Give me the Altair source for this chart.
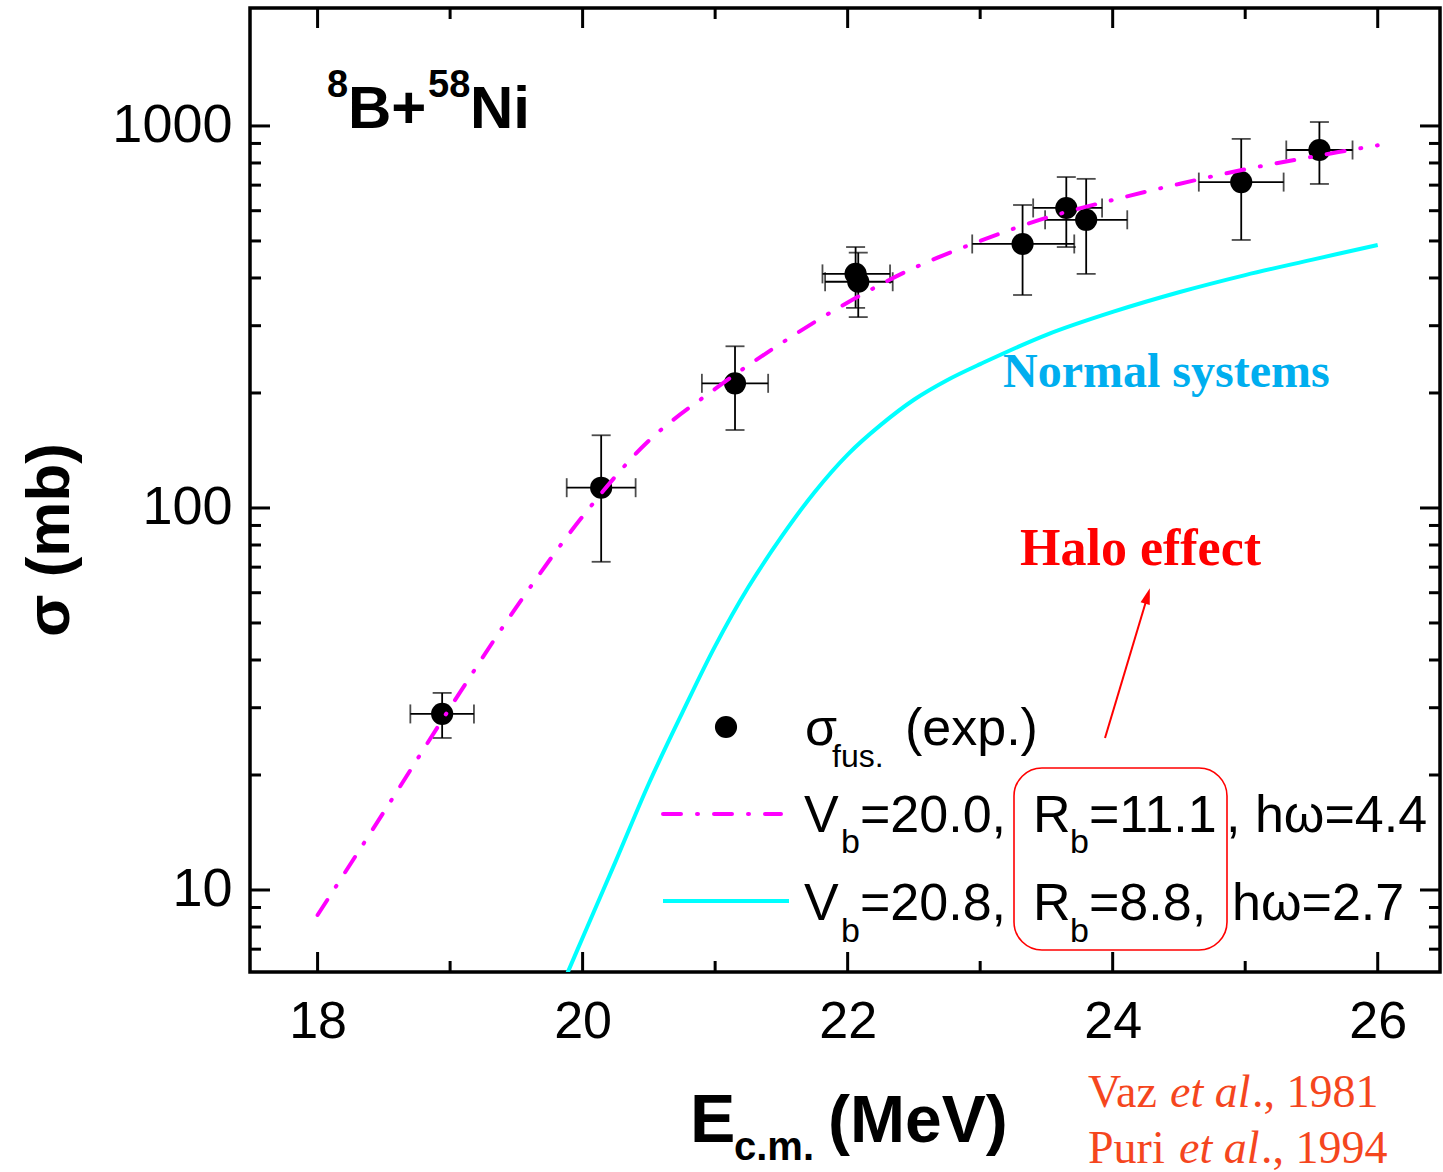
import altair as alt
import pandas as pd

# ---------------- data ----------------
E_exp = [18.94, 20.14, 21.15, 22.06, 22.08, 23.32, 23.65, 23.80, 24.97, 25.56]
sig_exp = [28.9, 113, 212, 410, 391, 491, 610, 568, 713, 865]
sig_lo = [25.0, 72.3, 160, 334, 316, 361, 482, 410, 503, 705]
sig_hi = [32.8, 155, 265, 482, 466, 621, 735, 727, 925, 1024]
E_lo = [18.70, 19.88, 20.90, 21.81, 21.83, 22.94, 23.40, 23.49, 24.65, 25.31]
E_hi = [19.18, 20.40, 21.40, 22.32, 22.34, 23.71, 23.92, 24.11, 25.29, 25.81]

E_fit = [18.0, 18.5, 19.0, 19.5, 20.0, 20.5, 21.0, 21.5, 22.0, 22.5, 23.0,
         23.5, 24.0, 24.5, 25.0, 25.5, 26.0]
sig_fit = [8.6, 16, 30, 55, 95, 150, 205, 270, 345, 425, 500,
           575, 640, 705, 770, 830, 890]

E_norm = [19.88, 20.0, 20.25, 20.5, 20.75, 21.0, 21.25, 21.5, 21.75, 22.0,
          22.25, 22.5, 22.75, 23.0, 23.5, 24.0, 24.5, 25.0, 25.5, 26.0]
sig_norm = [6.0, 7.5, 11.9, 19.0, 29.0, 43.5, 62.0, 84.0, 110, 138,
            165, 192, 216, 238, 284, 326, 367, 407, 446, 488]

x_major = [18, 20, 22, 24, 26]
x_minor = [19, 21, 23, 25]
y_major = [10, 100, 1000]
y_minor = [7, 8, 9, 20, 30, 40, 50, 60, 70, 80, 90,
           200, 300, 400, 500, 600, 700, 800, 900]

# ---------------- layout ----------------
W, H = 1190, 964
FONT = "Liberation Sans"
SERIF = "Liberation Serif"

xs = alt.Scale(domain=[17.49, 26.47], nice=False, zero=False)
ys = alt.Scale(type="log", domain=[6.1, 2036], nice=False)

xaxis = alt.Axis(values=x_major, ticks=False, tickSize=0, domain=False, grid=False,
                 labelFont=FONT, labelFontSize=52, labelPadding=24,
                 labelColor="black", format="d", title=None)
yaxis = alt.Axis(values=y_major, ticks=False, tickSize=0, domain=False, grid=False,
                 labelFont=FONT, labelFontSize=54, labelPadding=18,
                 labelColor="black", format="d", title=None)

exp_df = pd.DataFrame({"E": E_exp, "sig": sig_exp, "lo": sig_lo, "hi": sig_hi,
                       "elo": E_lo, "ehi": E_hi})
fit_df = pd.DataFrame({"E": E_fit, "sig": sig_fit})
norm_df = pd.DataFrame({"E": E_norm, "sig": sig_norm})


def X(f):
    return alt.X(f, scale=xs, axis=xaxis, title=None)


def Y(f):
    return alt.Y(f, scale=ys, axis=yaxis, title=None)


def xticks(vals, y0, y1):
    return alt.Chart(pd.DataFrame({"v": vals})).mark_rule(
        color="black", strokeWidth=3).encode(
        x=X("v:Q"), y=alt.value(y0), y2=alt.value(y1))


def yticks(vals, x0, x1):
    return alt.Chart(pd.DataFrame({"v": vals})).mark_rule(
        color="black", strokeWidth=3).encode(
        y=Y("v:Q"), x=alt.value(x0), x2=alt.value(x1))


def txt(s, x, y, size, weight="normal", font=FONT, color="black",
        style="normal", align="left", angle=0, baseline="alphabetic"):
    return alt.Chart(pd.DataFrame({"t": [s]})).mark_text(
        align=align, baseline=baseline, font=font, fontSize=size,
        fontWeight=weight, fontStyle=style, color=color, angle=angle).encode(
        x=alt.value(x), y=alt.value(y), text="t:N")


tick_layers = [
    xticks(x_major, H, H - 20), xticks(x_minor, H, H - 11),
    xticks(x_major, 0, 20), xticks(x_minor, 0, 11),
    yticks(y_major, 0, 20), yticks(y_minor, 0, 11),
    yticks(y_major, W, W - 20), yticks(y_minor, W, W - 11),
]

base = alt.Chart(exp_df)
vbar = base.mark_rule(color="black", strokeWidth=1.8).encode(
    x=X("E:Q"), y=Y("lo:Q"), y2="hi:Q")
hbar = base.mark_rule(color="black", strokeWidth=1.8).encode(
    x=X("elo:Q"), x2="ehi:Q", y=Y("sig:Q"))
cap_lo = base.mark_tick(orient="horizontal", size=19, thickness=1.8, color="black").encode(
    x=X("E:Q"), y=Y("lo:Q"))
cap_hi = base.mark_tick(orient="horizontal", size=19, thickness=1.8, color="black").encode(
    x=X("E:Q"), y=Y("hi:Q"))
cap_l = base.mark_tick(orient="vertical", size=19, thickness=1.8, color="black").encode(
    x=X("elo:Q"), y=Y("sig:Q"))
cap_r = base.mark_tick(orient="vertical", size=19, thickness=1.8, color="black").encode(
    x=X("ehi:Q"), y=Y("sig:Q"))
pts = base.mark_point(filled=True, color="black", opacity=1, size=490).encode(
    x=X("E:Q"), y=Y("sig:Q"))

DASH = [18, 16, 1, 16]
fit_line = alt.Chart(fit_df).mark_line(
    color="#FF00FF", strokeWidth=4, strokeDash=DASH, strokeCap="round",
    interpolate="catmull-rom", clip=True).encode(x=X("E:Q"), y=Y("sig:Q"))
norm_line = alt.Chart(norm_df).mark_line(
    color="#00FFFF", strokeWidth=4, interpolate="catmull-rom", clip=True).encode(
    x=X("E:Q"), y=Y("sig:Q"))

one = pd.DataFrame({"t": [""]})
leg_dot = alt.Chart(one).mark_point(filled=True, color="black", opacity=1, size=490).encode(
    x=alt.value(476), y=alt.value(719))
leg_fit = alt.Chart(one).mark_rule(color="#FF00FF", strokeWidth=4, strokeDash=DASH,
                                   strokeCap="round").encode(
    x=alt.value(413), x2=alt.value(531), y=alt.value(806))
leg_norm = alt.Chart(one).mark_rule(color="#00FFFF", strokeWidth=4).encode(
    x=alt.value(413), x2=alt.value(539), y=alt.value(893))
box = alt.Chart(one).mark_rect(fillOpacity=0, stroke="red", strokeWidth=1.6,
                               cornerRadius=28).encode(
    x=alt.value(764), x2=alt.value(977), y=alt.value(760), y2=alt.value(942))
arrow = alt.Chart(one).mark_rule(color="red", strokeWidth=2).encode(
    x=alt.value(855), y=alt.value(730), x2=alt.value(897), y2=alt.value(590))
head = alt.Chart(one).mark_point(shape="M0,-1L0.6,1L-0.6,1Z", filled=True, color="red",
                                 opacity=1, size=256, angle=17).encode(
    x=alt.value(897.5), y=alt.value(588))

REF = "#F5461E"
texts = [
    # system label
    txt("8", 77, 89, 38, "bold"),
    txt("B+", 98, 120, 60, "bold"),
    txt("58", 178, 89, 38, "bold"),
    txt("Ni", 220, 120, 60, "bold"),
    # legend
    txt("σ", 555, 737, 52),
    txt("fus.", 582, 759, 32),
    txt("(exp.)", 655, 737, 52),
    txt("V", 554, 824, 52), txt("b", 591, 845, 34), txt("=20.0,", 610, 824, 52),
    txt("R", 783, 824, 52), txt("b", 820, 845, 34), txt("=11.1", 839, 824, 52),
    txt(", hω=4.4", 976, 824, 52),
    txt("V", 554, 912, 52), txt("b", 591, 934, 34), txt("=20.8,", 610, 912, 52),
    txt("R", 783, 912, 52), txt("b", 820, 934, 34), txt("=8.8,", 839, 912, 52),
    txt("hω=2.7", 982, 912, 52),
    # annotations
    txt("Normal systems", 753, 379, 48, "bold", SERIF, "#00AEEF"),
    txt("Halo effect", 770, 557, 52, "bold", SERIF, "#FF0000"),
    # axis titles
    txt("σ (mb)", -200, 532, 62, "bold", angle=270, align="center", baseline="middle"),
    txt("E", 440, 1134, 68, "bold"),
    txt("c.m.", 484, 1152, 40, "bold"),
    txt("(MeV)", 578, 1134, 66, "bold"),
    # references
    txt("Vaz", 838, 1099, 46, font=SERIF, color=REF),
    txt("et al", 920, 1099, 46, font=SERIF, color=REF, style="italic"),
    txt("., 1981", 1002, 1099, 46, font=SERIF, color=REF),
    txt("Puri", 838, 1155, 46, font=SERIF, color=REF),
    txt("et al", 929, 1155, 46, font=SERIF, color=REF, style="italic"),
    txt("., 1994", 1011, 1155, 46, font=SERIF, color=REF),
]

chart = alt.layer(
    *tick_layers, vbar, hbar, cap_lo, cap_hi, cap_l, cap_r, pts,
    fit_line, norm_line, leg_dot, leg_fit, leg_norm, box, arrow, head, *texts
).properties(
    width=W, height=H,
    padding={"left": 250, "top": 8, "right": 3, "bottom": 200},
    autosize=alt.AutoSizeParams(type="none"),
    background="white",
).configure_view(stroke="black", strokeWidth=3.5)

chart.save("out.html", embed_options={"renderer": "svg", "actions": False})
